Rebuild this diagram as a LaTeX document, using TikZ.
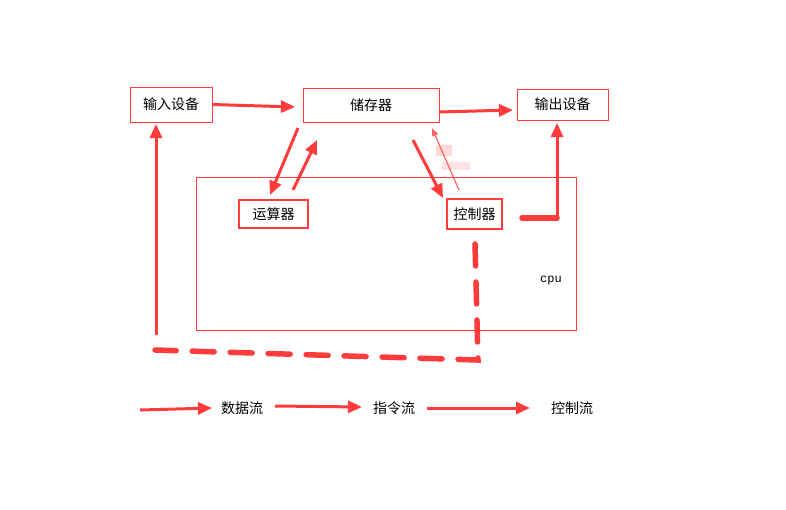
\documentclass[tikz,border=0pt]{standalone}
\usepackage{fontspec}
\newfontfamily\cjk{Noto Sans CJK SC}
\setmonofont{Liberation Mono}
\usetikzlibrary{arrows.meta}
\definecolor{rd}{HTML}{FF3B3B}
\begin{document}
\begin{tikzpicture}[x=1pt,y=-1pt,
  box/.style={draw=rd,line width=0.8pt,inner sep=0pt,font=\cjk\fontsize{14}{16}\selectfont},
  tbox/.style={draw=rd,line width=2.5pt,inner sep=0pt,font=\cjk\fontsize{14}{16}\selectfont},
  lbl/.style={font=\cjk\fontsize{14}{16}\selectfont,inner sep=1pt},
  arr/.style={draw=rd,line width=3pt,-{Triangle[length=14pt,width=12pt]}},
  dsh/.style={draw=rd,line width=5.5pt,line cap=round,dash pattern=on 22pt off 16pt}]
\useasboundingbox (0,0) rectangle (786,509);
\node[box,minimum width=82,minimum height=35] (in) at (171,104.5) {输入设备};
\node[box,minimum width=136,minimum height=34] (mem) at (371,105) {储存器};
\node[box,minimum width=91,minimum height=31] (out) at (562.5,104.5) {输出设备};
\node[draw=rd,line width=0.8pt,minimum width=380,minimum height=153,inner sep=0pt] (cpu) at (386,253.5) {};
\node[font=\ttfamily\fontsize{12}{14}\selectfont] (cpul) at (551,281) {cpu};
\node[tbox,minimum width=69,minimum height=28] (alu) at (273.5,214) {运算器};
\node[tbox,minimum width=55,minimum height=30] (ctl) at (474.5,214) {控制器};
\coordinate (a1) at (295,107);
\draw[arr] (in.east) -- (a1);
\coordinate (a2) at (513,110);
\draw[arr] (mem.east |- 0,112) -- (a2);
\draw[arr] (298,128) -- (270,195);
\draw[arr] (293,190) -- (317,140);
\draw[arr] (413,140) -- (443,198);
\fill[rd!20] (436,145) rectangle (452,156);
\fill[rd!15] (442,162) rectangle (470,170);
\draw[draw=rd!80,line width=1.2pt,-{Triangle[length=8pt,width=6pt]}] (459,190) -- (432,128);
\coordinate (c1) at (557,218);
\coordinate (o1) at (557,123);
\draw[arr] (c1) -- (o1);
\coordinate (c2) at (156,335);
\coordinate (i1) at (156,124);
\draw[arr] (c2) -- (i1);
\coordinate (d0) at (522,218);
\draw[dsh,dash pattern=on 40pt off 100pt] (d0) -- (c1);
\coordinate (d1) at (475,244);
\coordinate (d2) at (478,360);
\coordinate (d3) at (155,350);
\draw[dsh] (d1) -- (d2) -- (d3);
\coordinate (l1) at (140,410); \coordinate (l2) at (212,408);
\draw[arr] (l1) -- (l2);
\node[lbl] (t1) at (242,408) {数据流};
\coordinate (l3) at (275,406); \coordinate (l4) at (362,407);
\draw[arr] (l3) -- (l4);
\node[lbl] (t2) at (394,408) {指令流};
\coordinate (l5) at (427,408); \coordinate (l6) at (530,408);
\draw[arr] (l5) -- (l6);
\node[lbl] (t3) at (572,408) {控制流};
\end{tikzpicture}
\end{document}
